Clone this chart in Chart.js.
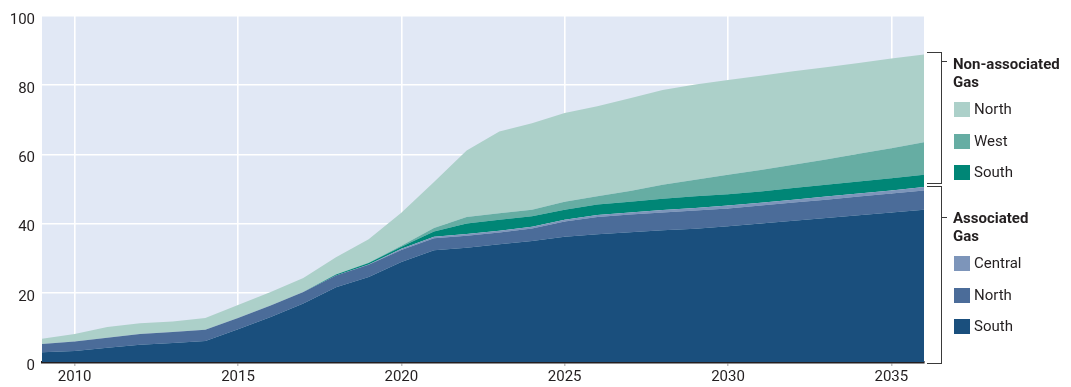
<!DOCTYPE html>
<html>
<head>
<meta charset="utf-8">
<script src="https://cdn.jsdelivr.net/npm/chart.js@4/dist/chart.umd.min.js"></script>
<style>
  html, body { margin: 0; padding: 0; background: #ffffff; }
  #wrap { position: relative; width: 1071px; height: 387px; overflow: hidden; font-family: Roboto, "Open Sans", sans-serif; color: #231f20; }
  #c { position: absolute; left: 0; top: 0; }
  .bracket { position: absolute; box-sizing: border-box; border: 1.3px solid #3a3a3a; border-left: none; }
  .btick { position: absolute; height: 1.3px; width: 5px; background: #3a3a3a; }
  .gtitle { position: absolute; font-weight: 700; font-size: 15px; line-height: 18px; white-space: nowrap; }
  .sw { position: absolute; width: 16px; height: 15px; }
  .lbl { position: absolute; font-size: 15px; line-height: 18px; white-space: nowrap; }
</style>
</head>
<body>
<div id="wrap">
  <canvas id="c" width="1071" height="387"></canvas>
</div>
<script>
// ---- data ----
const years = [2009, 2010, 2011, 2012, 2013, 2014, 2015, 2016, 2017, 2018, 2019, 2020, 2021, 2022,
               2023, 2024, 2025, 2026, 2027, 2028, 2029, 2030, 2031, 2032, 2033, 2034, 2035, 2036];
const xTickYears = [2010, 2015, 2020, 2025, 2030, 2035];
const yTicks = [0, 20, 40, 60, 80, 100];

const assocSouth   = [2.8, 3.2, 4.1, 5.0, 5.5, 6.1, 9.5, 13.0, 16.9, 21.6, 24.6, 28.9, 32.3, 33.0,
                      34.0, 35.0, 36.2, 36.9, 37.5, 38.1, 38.5, 39.2, 40.0, 40.8, 41.6, 42.4, 43.2, 44.0];
const assocNorth   = [2.4, 2.7, 2.9, 3.1, 3.2, 3.2, 3.2, 3.3, 3.3, 3.4, 3.5, 3.5, 3.5, 3.5,
                      3.4, 3.6, 4.4, 5.0, 5.1, 5.1, 5.3, 5.2, 5.2, 5.3, 5.3, 5.4, 5.5, 5.6];
const assocCentral = [0, 0, 0, 0, 0, 0, 0, 0, 0, 0, 0.1, 0.3, 0.4, 0.5,
                      0.5, 0.5, 0.5, 0.6, 0.6, 0.7, 0.7, 0.8, 0.8, 0.8, 0.9, 0.9, 0.9, 1.0];
const nonAssocSouth = [0, 0, 0, 0, 0, 0, 0, 0, 0, 0.3, 0.4, 0.6, 1.5, 3.0,
                       3.2, 3.0, 2.9, 3.0, 3.1, 3.3, 3.4, 3.3, 3.3, 3.4, 3.4, 3.5, 3.5, 3.5];
const nonAssocWest  = [0, 0, 0, 0, 0, 0, 0, 0, 0, 0, 0.1, 0.3, 1.0, 1.9,
                       1.9, 1.9, 2.3, 2.4, 3.1, 4.0, 4.8, 5.6, 6.2, 6.7, 7.3, 8.0, 8.7, 9.4];
const nonAssocNorth = [1.5, 2.2, 3.1, 3.1, 3.0, 3.4, 3.8, 3.9, 4.1, 5.0, 6.8, 9.5, 13.3, 19.2,
                       23.6, 25.0, 25.7, 26.0, 26.8, 27.4, 27.5, 27.4, 27.2, 27.0, 26.7, 26.2, 25.9, 25.4];

const groupNonAssoc = ["Non-associated", "Gas"];
const groupAssoc = ["Associated", "Gas"];

// ---- styles ----
const COLORS = {
  assocSouth: "#1a4f7d",
  assocNorth: "#4b6c99",
  assocCentral: "#7d95ba",
  naSouth: "#008676",
  naWest: "#66ada3",
  naNorth: "#acd0c9"
};
const PLOT_BG = "#e1e8f5";
const TEXT = "#231f20";

function series(label, values, color, idx) {
  return {
    label: label,
    data: years.map((y, i) => ({ x: y, y: values[i] })),
    backgroundColor: color,
    borderColor: color,
    borderWidth: 0,
    pointRadius: 0,
    tension: 0,
    fill: idx === 0 ? "origin" : "-1"
  };
}

const datasets = [
  series("South", assocSouth, COLORS.assocSouth, 0),
  series("North", assocNorth, COLORS.assocNorth, 1),
  series("Central", assocCentral, COLORS.assocCentral, 2),
  series("South", nonAssocSouth, COLORS.naSouth, 3),
  series("West", nonAssocWest, COLORS.naWest, 4),
  series("North", nonAssocNorth, COLORS.naNorth, 5)
];

const plotBg = {
  id: "plotBg",
  beforeDraw(chart) {
    const a = chart.chartArea, ctx = chart.ctx;
    ctx.save();
    ctx.fillStyle = PLOT_BG;
    ctx.fillRect(a.left, a.top, a.right - a.left, a.bottom - a.top);
    ctx.restore();
  }
};

const chart = new Chart(document.getElementById("c"), {
  type: "line",
  data: { datasets: datasets },
  options: {
    responsive: false,
    animation: false,
    layout: { padding: { left: 0, top: 14, right: 147, bottom: 0 } },
    plugins: { legend: { display: false }, tooltip: { enabled: false } },
    elements: { line: { borderWidth: 0 } },
    scales: {
      x: {
        type: "linear",
        min: years[0],
        max: years[years.length - 1],
        afterBuildTicks: (s) => { s.ticks = xTickYears.map(v => ({ value: v })); },
        afterFit: (s) => { s.height = 25; },
        ticks: {
          callback: (v) => String(v),
          color: TEXT,
          font: { family: "Roboto", size: 15 },
          padding: 2,
          maxRotation: 0,
          autoSkip: false
        },
        grid: { color: "#ffffff", lineWidth: 1.6, tickLength: 4, tickColor: "#b5b5b5", tickWidth: 1.2 },
        border: { display: true, color: TEXT, width: 2.5 }
      },
      y: {
        stacked: true,
        min: 0,
        max: 100,
        afterBuildTicks: (s) => { s.ticks = yTicks.map(v => ({ value: v })); },
        afterFit: (s) => { s.width = 42; },
        ticks: {
          color: TEXT,
          font: { family: "Roboto", size: 15 },
          padding: 7,
          labelOffset: 4
        },
        grid: { color: "#ffffff", lineWidth: 1.6, drawTicks: false },
        border: { display: false }
      }
    }
  },
  plugins: [plotBg]
});

// ---- grouped legend with brackets (HTML text) ----
const wrap = document.getElementById("wrap");
function el(cls, css, text) {
  const d = document.createElement("div");
  d.className = cls;
  Object.assign(d.style, css);
  if (text !== undefined) d.textContent = text;
  wrap.appendChild(d);
  return d;
}
// brackets
el("bracket", { left: "927px", top: "51.5px", width: "15px", height: "132px" });
el("btick", { left: "942px", top: "61px" });
el("bracket", { left: "927px", top: "186px", width: "15px", height: "178px" });
el("btick", { left: "942px", top: "217px" });

// group titles
el("gtitle", { left: "953px", top: "55px" }, groupNonAssoc[0]);
el("gtitle", { left: "953px", top: "73px" }, groupNonAssoc[1]);
el("gtitle", { left: "953px", top: "209px" }, groupAssoc[0]);
el("gtitle", { left: "953px", top: "227px" }, groupAssoc[1]);

// items (top to bottom)
const legendRows = [
  { ds: datasets[5], top: 102 },
  { ds: datasets[4], top: 134 },
  { ds: datasets[3], top: 165 },
  { ds: datasets[2], top: 256 },
  { ds: datasets[1], top: 288 },
  { ds: datasets[0], top: 319 }
];
legendRows.forEach(r => {
  el("sw", { left: "954px", top: r.top + "px", background: r.ds.backgroundColor });
  el("lbl", { left: "974px", top: (r.top - 2) + "px" }, r.ds.label);
});
</script>
</body>
</html>
